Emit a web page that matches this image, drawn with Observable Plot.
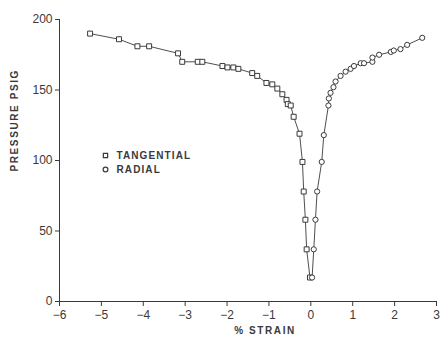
<!DOCTYPE html>
<html>
<head>
<meta charset="utf-8">
<script src="https://cdn.jsdelivr.net/npm/d3@7"></script>
<script src="https://cdn.jsdelivr.net/npm/@observablehq/plot@0.6"></script>
<style>
  html, body { margin: 0; padding: 0; background: #fff; }
  #chart { width: 440px; height: 347px; }
</style>
</head>
<body>
<div id="chart"></div>
<script>
// Tangential strain (squares) — % strain vs pressure psig
const tangentialStrain   = [-5.27, -4.58, -4.14, -3.86, -3.17, -3.07, -2.70, -2.59, -2.11, -1.99, -1.85, -1.73, -1.40, -1.28, -1.06, -0.92, -0.80, -0.68, -0.58, -0.55, -0.48, -0.41, -0.27, -0.20, -0.17, -0.13, -0.10, -0.02];
const tangentialPressure = [190, 186, 181, 181, 176, 170, 170, 170, 167, 166, 166, 165, 162, 160, 155, 154, 151, 147, 143, 140, 139, 131, 119, 99, 78, 58, 37, 17];
// Radial strain (circles)
const radialStrain   = [0.03, 0.07, 0.11, 0.15, 0.26, 0.31, 0.42, 0.43, 0.47, 0.54, 0.59, 0.71, 0.83, 0.95, 1.03, 1.19, 1.27, 1.47, 1.47, 1.63, 1.91, 1.98, 2.14, 2.30, 2.66];
const radialPressure = [17, 37, 58, 78, 99, 118, 139, 144, 148, 152, 156, 160, 163, 165, 167, 169, 169, 170, 173, 175, 177, 178, 179, 182, 187];

const xTicks = [-6, -5, -4, -3, -2, -1, 0, 1, 2, 3];
const yTicks = [0, 50, 100, 150, 200];
const legendLabels = ["TANGENTIAL", "RADIAL"];
const legendSymbols = ["square", "circle"];
const xLabel = "% STRAIN";
const yLabel = "PRESSURE PSIG";

const tangential = tangentialStrain.map((s, i) => ({strain: s, pressure: tangentialPressure[i]}));
const radial = radialStrain.map((s, i) => ({strain: s, pressure: radialPressure[i]}));

const ink = "#3a3a3a";

const chart = Plot.plot({
  width: 440,
  height: 347,
  marginLeft: 59,
  marginRight: 4,
  marginTop: 19,
  marginBottom: 46,
  style: {fontFamily: "'Liberation Sans', Arial, sans-serif", fontSize: "12px", color: ink, background: "#fff"},
  x: {domain: [-6, 3], ticks: xTicks, tickSize: 5, tickPadding: 4, line: true, label: null},
  y: {domain: [0, 200], ticks: yTicks, tickSize: 4, tickPadding: 3, line: true, label: null},
  marks: [
    Plot.line(tangential, {x: "strain", y: "pressure", stroke: ink, strokeWidth: 0.9}),
    Plot.line(radial, {x: "strain", y: "pressure", stroke: ink, strokeWidth: 0.9}),
    Plot.dot(tangential, {x: "strain", y: "pressure", symbol: "square", r: 2.8, stroke: ink, strokeWidth: 1, fill: "white"}),
    Plot.dot(radial, {x: "strain", y: "pressure", symbol: "circle", r: 2.6, stroke: ink, strokeWidth: 1, fill: "white"}),
    // legend
    Plot.dot([legendSymbols[0]], {frameAnchor: "top-left", dx: 46, dy: 136, symbol: d => d, r: 2.4, stroke: ink, strokeWidth: 1.2, fill: "white"}),
    Plot.dot([legendSymbols[1]], {frameAnchor: "top-left", dx: 46, dy: 150, symbol: d => d, r: 2.4, stroke: ink, strokeWidth: 1.2, fill: "white"}),
    Plot.text([legendLabels[0]], {frameAnchor: "top-left", dx: 57, dy: 136, text: d => d, textAnchor: "start", lineAnchor: "middle", fontSize: 10, fontWeight: "bold", fill: ink}),
    Plot.text([legendLabels[1]], {frameAnchor: "top-left", dx: 57, dy: 150, text: d => d, textAnchor: "start", lineAnchor: "middle", fontSize: 10, fontWeight: "bold", fill: ink}),
    // axis titles
    Plot.text([xLabel], {frameAnchor: "bottom", dx: 17, dy: 32, text: d => d, fontSize: 10, fontWeight: "bold", fill: ink}),
    Plot.text([yLabel], {frameAnchor: "left", dx: -45, dy: 11, rotate: -90, text: d => d, fontSize: 10, fontWeight: "bold", fill: ink})
  ]
});

d3.select(chart).selectAll("text")
  .filter(function() { const t = this.textContent; return t === xLabel || t === yLabel; })
  .attr("letter-spacing", "1.6px");
d3.select(chart).selectAll("text")
  .filter(function() { return legendLabels.includes(this.textContent); })
  .attr("letter-spacing", "1.1px");

document.getElementById("chart").appendChild(chart);
</script>
</body>
</html>
